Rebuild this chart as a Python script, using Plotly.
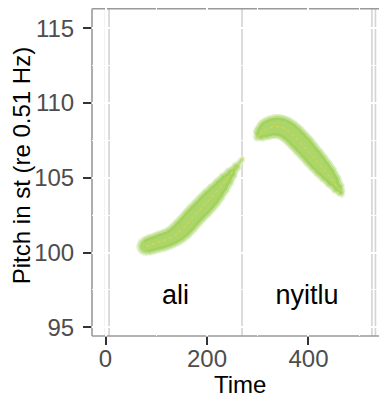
import plotly.graph_objects as go

# ---- data ----
ali_time = [80, 90, 100, 110, 120, 130, 140, 150, 160, 170, 180, 190, 200, 210, 220, 230, 240, 250, 260, 270]
ali_pitch = [100.42, 100.55, 100.65, 100.76, 100.87, 101.02, 101.23, 101.53, 101.88, 102.28, 102.64,
             102.98, 103.34, 103.72, 104.11, 104.53, 104.96, 105.40, 105.83, 106.27]
ali_intensity = [16, 17, 17, 18, 18, 18, 19, 20, 20, 20, 20, 20, 20, 19, 17, 15, 12, 8, 4, 1]

nyi_time = [300, 310, 320, 330, 340, 350, 360, 370, 380, 390, 400, 410, 420, 430, 440, 450, 460, 465]
nyi_pitch = [107.75, 108.08, 108.30, 108.41, 108.42, 108.35, 108.15, 107.86, 107.51, 107.15,
             106.76, 106.36, 105.96, 105.57, 105.17, 104.72, 104.22, 103.90]
nyi_intensity = [6, 15, 19, 20, 21, 21, 21, 21, 21, 21, 20, 20, 19, 18, 16, 13, 8, 3]

ali_tail_time = [270, 276]
ali_tail_pitch = [106.27, 106.52]
nyi_head_time = [297, 300]
nyi_head_pitch = [107.62, 107.75]

boundaries = [0, 7, 269, 525, 532]
word_labels = ["ali", "nyitlu"]
word_times = [138, 397]
word_pitch = [97, 97]

x_ticks = [0, 200, 400]
y_ticks = [95, 100, 105, 110, 115]

fig = go.Figure()

layers = [(4, "#dff0c9"), (1, "#bfe08e"), (-3, "#a2d25c"), (-8, "#acd66a")]

def add_contour(t, p, w):
    for extra, col in layers:
        for i in range(len(t) - 1):
            wa = max(w[i] + extra, 0)
            wb = max(w[i + 1] + extra, 0)
            if wa <= 0 and wb <= 0:
                continue
            fig.add_trace(go.Scatter(
                x=[t[i], t[i + 1]], y=[p[i], p[i + 1]],
                mode="lines+markers",
                line=dict(color=col, width=(wa + wb) / 2),
                marker=dict(color=col, size=[wa, wb], line=dict(width=0)),
                hoverinfo="skip", showlegend=False))

add_contour(ali_time, ali_pitch, ali_intensity)
add_contour(nyi_time, nyi_pitch, nyi_intensity)

for tt, pp in [(ali_time + ali_tail_time[1:], ali_pitch + ali_tail_pitch[1:]),
               (nyi_head_time[:1] + nyi_time, nyi_head_pitch[:1] + nyi_pitch)]:
    fig.add_trace(go.Scatter(x=tt, y=pp, mode="lines",
                             line=dict(color="#e6d84a", width=1, dash="dot"),
                             hoverinfo="skip", showlegend=False))

fig.add_trace(go.Scatter(x=word_times, y=word_pitch, text=word_labels, mode="text",
                         textfont=dict(family="Liberation Sans, Arial", size=27, color="black"),
                         hoverinfo="skip", showlegend=False))

shapes = []
for b in boundaries:
    shapes.append(dict(type="line", xref="x", yref="paper", x0=b, x1=b, y0=0, y1=1,
                       line=dict(color="#d3d3d3", width=1.6), layer="between"))
border = "#9a9a9a"
shapes.append(dict(type="line", xref="paper", yref="paper", x0=0, x1=0, y0=0, y1=0.998,
                   line=dict(color=border, width=1.6), layer="below"))
shapes.append(dict(type="line", xref="paper", yref="paper", x0=0, x1=1.02, y0=0.998, y1=0.998,
                   line=dict(color=border, width=1.6), layer="below"))
shapes.append(dict(type="line", xref="paper", yref="paper", x0=0, x1=1.02, y0=0, y1=0,
                   line=dict(color=border, width=1.6), layer="below"))

annotations = [
    dict(text="Time", xref="paper", yref="paper", x=0.5, y=-0.148, xanchor="center", yanchor="middle",
         showarrow=False, font=dict(size=24, color="black")),
    dict(text="Pitch in st (re 0.51 Hz)", xref="paper", yref="paper", x=-0.238, y=0.52,
         xanchor="center", yanchor="middle", textangle=-90,
         showarrow=False, font=dict(size=24, color="black")),
]

fig.update_layout(
    width=379, height=391,
    margin=dict(l=84, r=0, t=0, b=63),
    paper_bgcolor="white", plot_bgcolor="white",
    shapes=shapes, annotations=annotations,
    font=dict(family="Liberation Sans, Arial", color="black"),
    xaxis=dict(range=[-26.6, 554.7], tickvals=x_ticks, ticks="outside", ticklen=8, tickwidth=2,
               tickcolor="#333333", showgrid=True, gridcolor="white", gridwidth=2,
               minor=dict(tickvals=[100, 300, 500], showgrid=True, gridcolor="white", gridwidth=1.2),
               zeroline=False, showline=False, automargin=False, ticklabelstandoff=-7,
               tickfont=dict(size=24, color="#4d4d4d")),
    yaxis=dict(range=[94.42, 116.35], tickvals=y_ticks, ticks="outside", ticklen=8, tickwidth=2,
               tickcolor="#333333", showgrid=True, gridcolor="white", gridwidth=2,
               minor=dict(tickvals=[97.5, 102.5, 107.5, 112.5], showgrid=True, gridcolor="white", gridwidth=1.2),
               zeroline=False, showline=False, automargin=False, ticklabelstandoff=4,
               tickfont=dict(size=24, color="#4d4d4d")),
)

fig.write_html("out.html")
